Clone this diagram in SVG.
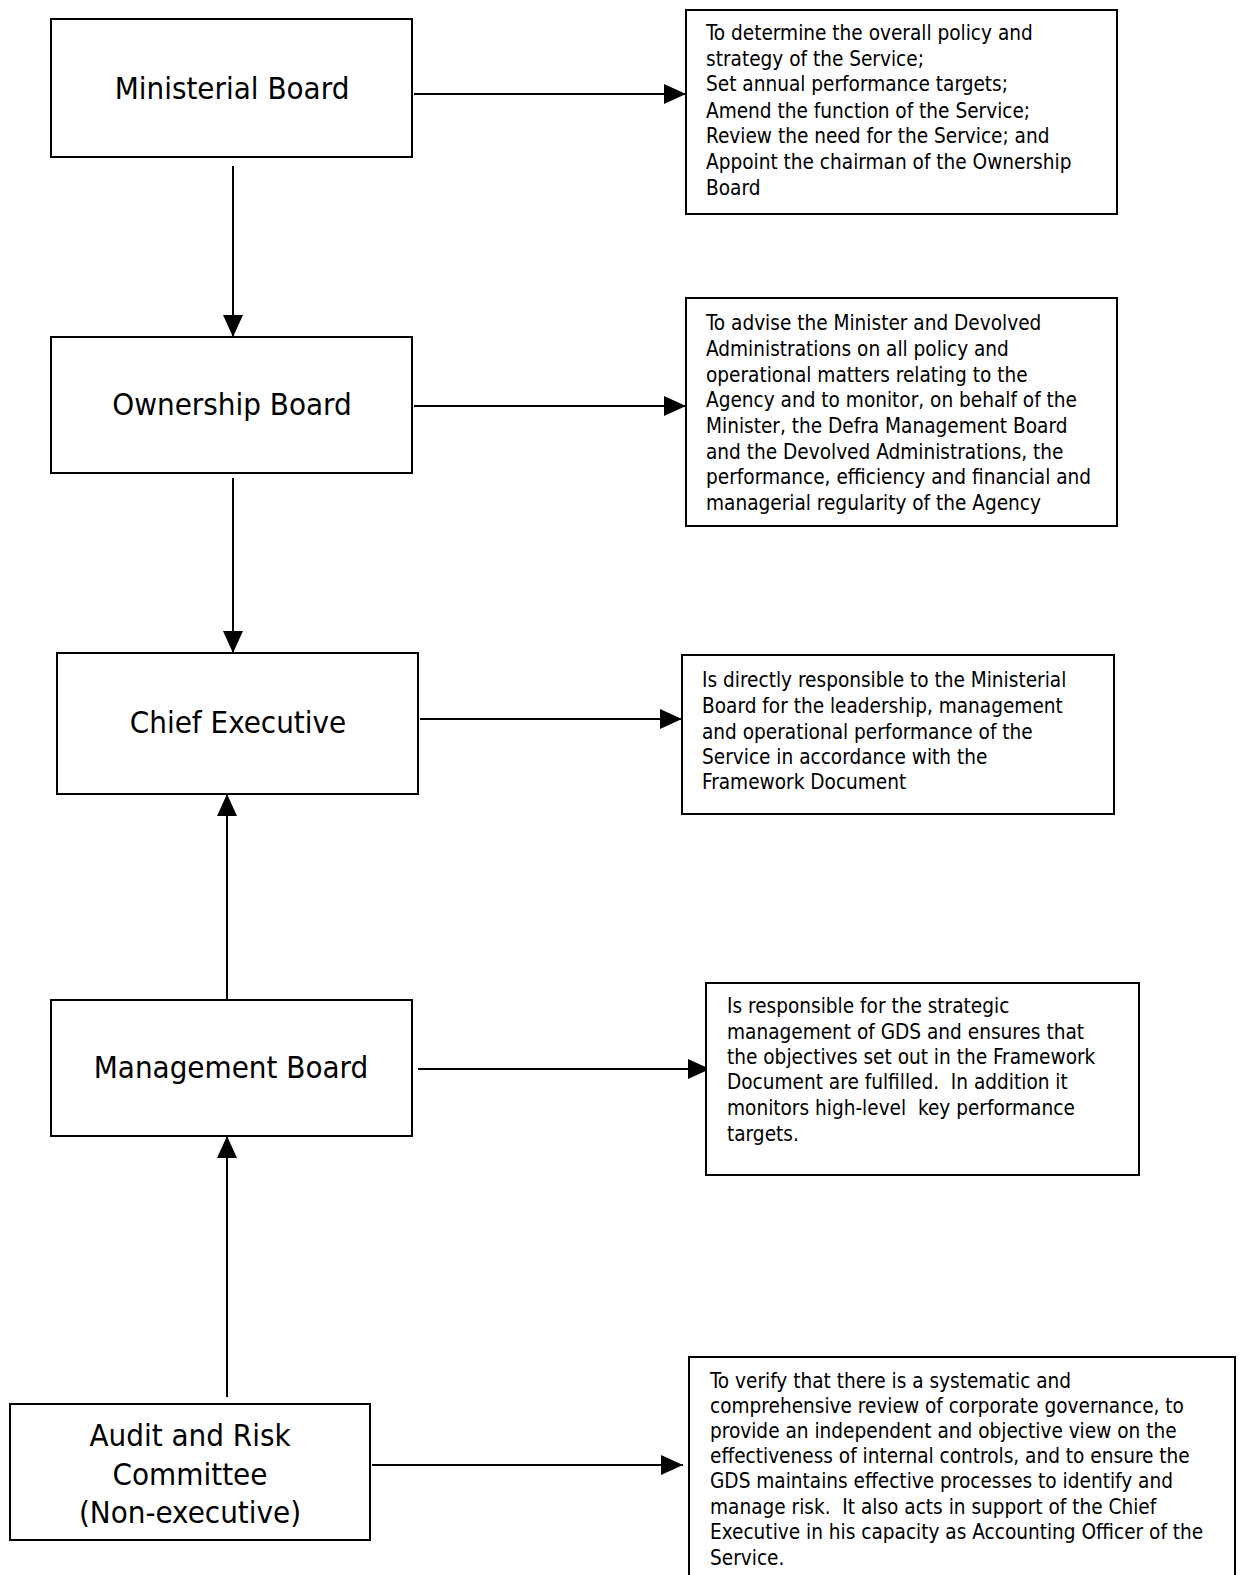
<svg xmlns="http://www.w3.org/2000/svg" width="1239" height="1575" viewBox="0 0 1239 1575">
<style>
.node{fill:#fff;stroke:#000;stroke-width:2}
.title{font-family:"DejaVu Sans Condensed","DejaVu Sans",sans-serif;font-stretch:condensed;font-size:31px;fill:#000;text-anchor:middle}
.desc{font-family:"DejaVu Sans Condensed","DejaVu Sans",sans-serif;font-stretch:condensed;font-size:20.6px;fill:#000;white-space:pre}
.conn{stroke:#000;stroke-width:2;fill:none;marker-end:url(#arr)}
</style>
<defs>
<marker id="arr" markerUnits="userSpaceOnUse" markerWidth="24" markerHeight="22" refX="22" refY="10" orient="auto">
<path d="M0,0 L22,10 L0,20 Z" fill="#000"/>
</marker>
</defs>
<rect width="1239" height="1575" fill="#fff"/>
<g id="connectors">
<line class="conn" x1="414" y1="94" x2="686" y2="94"/>
<line class="conn" x1="233" y1="166" x2="233" y2="337"/>
<line class="conn" x1="414" y1="406" x2="686" y2="406"/>
<line class="conn" x1="233" y1="478" x2="233" y2="653"/>
<line class="conn" x1="420" y1="719" x2="682" y2="719"/>
<line class="conn" x1="227" y1="1003" x2="227" y2="794"/>
<line class="conn" x1="418" y1="1069" x2="710" y2="1069"/>
<line class="conn" x1="227" y1="1397" x2="227" y2="1136"/>
<line class="conn" x1="372" y1="1465" x2="683" y2="1465"/>
</g>
<g id="ministerial-board">
<rect class="node" x="51" y="19" width="361" height="138"/>
<text class="title" x="232" y="99">Ministerial Board</text>
</g>
<g id="ministerial-desc">
<rect class="node" x="686" y="10" width="431" height="204"/>
<text class="desc" x="706" y="40">To determine the overall policy and</text>
<text class="desc" x="706" y="66">strategy of the Service;</text>
<text class="desc" x="706" y="91">Set annual performance targets;</text>
<text class="desc" x="706" y="118">Amend the function of the Service;</text>
<text class="desc" x="706" y="143">Review the need for the Service; and</text>
<text class="desc" x="706" y="169">Appoint the chairman of the Ownership</text>
<text class="desc" x="706" y="195">Board</text>
</g>
<g id="ownership-board">
<rect class="node" x="51" y="337" width="361" height="136"/>
<text class="title" x="232" y="415">Ownership Board</text>
</g>
<g id="ownership-desc">
<rect class="node" x="686" y="298" width="431" height="228"/>
<text class="desc" x="706" y="330">To advise the Minister and Devolved</text>
<text class="desc" x="706" y="356">Administrations on all policy and</text>
<text class="desc" x="706" y="382">operational matters relating to the</text>
<text class="desc" x="706" y="407">Agency and to monitor, on behalf of the</text>
<text class="desc" x="706" y="433">Minister, the Defra Management Board</text>
<text class="desc" x="706" y="459">and the Devolved Administrations, the</text>
<text class="desc" x="706" y="484">performance, efficiency and financial and</text>
<text class="desc" x="706" y="510">managerial regularity of the Agency</text>
</g>
<g id="chief-executive">
<rect class="node" x="57" y="653" width="361" height="141"/>
<text class="title" x="238" y="733">Chief Executive</text>
</g>
<g id="chief-desc">
<rect class="node" x="682" y="655" width="432" height="159"/>
<text class="desc" x="702" y="687">Is directly responsible to the Ministerial</text>
<text class="desc" x="702" y="713">Board for the leadership, management</text>
<text class="desc" x="702" y="739">and operational performance of the</text>
<text class="desc" x="702" y="764">Service in accordance with the</text>
<text class="desc" x="702" y="789">Framework Document</text>
</g>
<g id="management-board">
<rect class="node" x="51" y="1000" width="361" height="136"/>
<text class="title" x="231" y="1078">Management Board</text>
</g>
<g id="management-desc">
<rect class="node" x="706" y="983" width="433" height="192"/>
<text class="desc" x="727" y="1013">Is responsible for the strategic</text>
<text class="desc" x="727" y="1039">management of GDS and ensures that</text>
<text class="desc" x="727" y="1064">the objectives set out in the Framework</text>
<text class="desc" x="727" y="1089">Document are fulfilled.  In addition it</text>
<text class="desc" x="727" y="1115">monitors high-level  key performance</text>
<text class="desc" x="727" y="1141">targets.</text>
</g>
<g id="audit-risk-committee">
<rect class="node" x="10" y="1404" width="360" height="136"/>
<text class="title" x="190" y="1446">Audit and Risk</text>
<text class="title" x="190" y="1485">Committee</text>
<text class="title" x="190" y="1523">(Non-executive)</text>
</g>
<g id="audit-desc">
<rect class="node" x="689" y="1357" width="546" height="240"/>
<text class="desc" x="710" y="1388">To verify that there is a systematic and</text>
<text class="desc" x="710" y="1413">comprehensive review of corporate governance, to</text>
<text class="desc" x="710" y="1438">provide an independent and objective view on the</text>
<text class="desc" x="710" y="1463">effectiveness of internal controls, and to ensure the</text>
<text class="desc" x="710" y="1488">GDS maintains effective processes to identify and</text>
<text class="desc" x="710" y="1514">manage risk.  It also acts in support of the Chief</text>
<text class="desc" x="710" y="1539">Executive in his capacity as Accounting Officer of the</text>
<text class="desc" x="710" y="1565">Service.</text>
</g>
</svg>
